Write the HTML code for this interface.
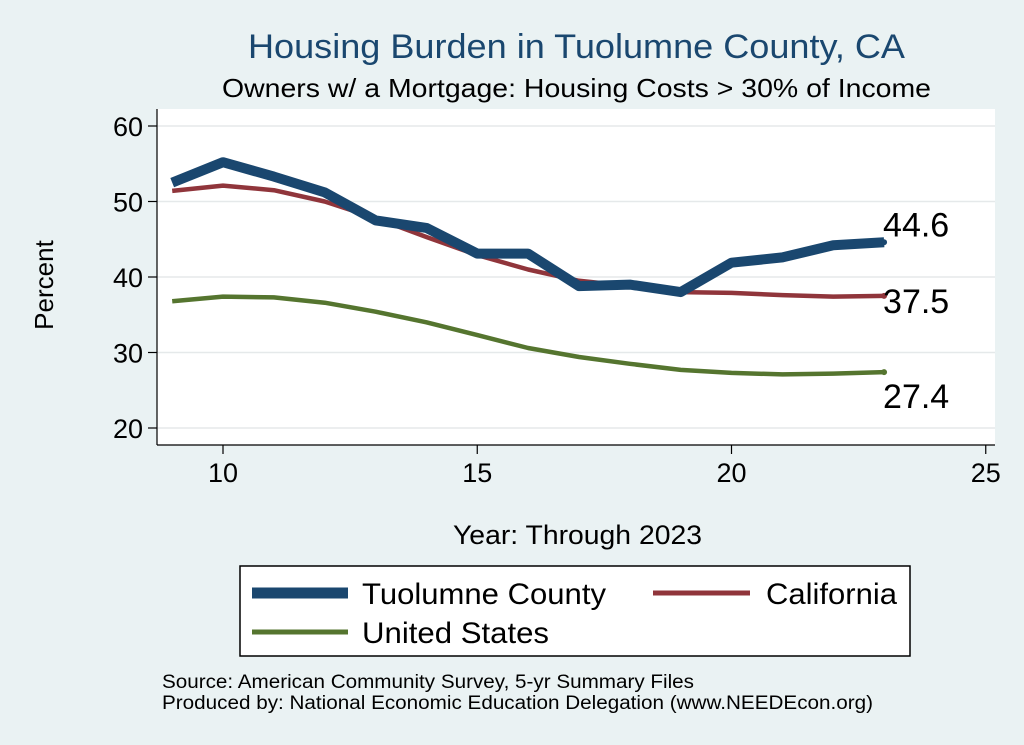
<!DOCTYPE html>
<html><head><meta charset="utf-8"><style>
body{margin:0;background:#eaf2f3;}
svg{display:block;font-family:"Liberation Sans",Arial,sans-serif;}
</style></head><body>
<svg id="chart" width="1024" height="745">
<rect x="0" y="0" width="1024" height="745" fill="#eaf2f3"/>
<text x="248" y="58" font-size="34" textLength="657" lengthAdjust="spacingAndGlyphs" fill="#1a476f">Housing Burden in Tuolumne County, CA</text>
<text x="222" y="97" font-size="26" textLength="709" lengthAdjust="spacingAndGlyphs" fill="#000">Owners w/ a Mortgage: Housing Costs &gt; 30% of Income</text>
<rect x="157" y="109" width="838" height="336" fill="#fff"/>
<g id="grid"></g>
<g id="axes"></g>
<g id="series"></g>
<text x="53" y="285" text-anchor="middle" font-size="26" transform="rotate(-90 53 285)">Percent</text>
<text x="453" y="544" font-size="27" textLength="249" lengthAdjust="spacingAndGlyphs">Year: Through 2023</text>
<g>
<rect x="240" y="566" width="670" height="90" fill="#fff" stroke="#000" stroke-width="1.5"/>
<line x1="252" y1="593" x2="348" y2="593" stroke="#1a476f" stroke-width="11"/>
<text x="362" y="604" font-size="30" textLength="244" lengthAdjust="spacingAndGlyphs">Tuolumne County</text>
<line x1="653" y1="593" x2="750" y2="593" stroke="#90353b" stroke-width="5"/>
<text x="766" y="604" font-size="30" textLength="131" lengthAdjust="spacingAndGlyphs">California</text>
<line x1="252" y1="632" x2="348" y2="632" stroke="#55752f" stroke-width="5"/>
<text x="362" y="643" font-size="30" textLength="187" lengthAdjust="spacingAndGlyphs">United States</text>
</g>
<text x="162" y="688" font-size="19" textLength="532" lengthAdjust="spacingAndGlyphs">Source: American Community Survey, 5-yr Summary Files</text>
<text x="162" y="709" font-size="19" textLength="711" lengthAdjust="spacingAndGlyphs">Produced by: National Economic Education Delegation (www.NEEDEcon.org)</text>
</svg>
<script>
const years=[9,10,11,12,13,14,15,16,17,18,19,20,21,22,23];
const tuolumne=[52.5,55.2,53.3,51.2,47.5,46.5,43.1,43.1,38.8,39.0,38.0,41.9,42.6,44.2,44.6];
const california=[51.4,52.1,51.5,50.0,47.8,45.3,42.9,41.0,39.5,38.8,38.0,37.9,37.6,37.4,37.5];
const unitedStates=[36.8,37.4,37.3,36.6,35.4,34.0,32.3,30.6,29.4,28.5,27.7,27.3,27.1,27.2,27.4];
const yTicks=[20,30,40,50,60];
const xTicks=[10,15,20,25];
const NS="http://www.w3.org/2000/svg";
function xs(v){return 223+(v-10)*50.85;}
function ys(v){return 428-(v-20)*7.55;}
function mk(tag,attrs,parent,txt){const e=document.createElementNS(NS,tag);for(const k in attrs)e.setAttribute(k,attrs[k]);if(txt!==undefined)e.textContent=txt;parent.appendChild(e);return e;}
const grid=document.getElementById('grid'),axes=document.getElementById('axes'),ser=document.getElementById('series');
yTicks.forEach(t=>{
 const g=mk('line',{x1:157,x2:995,y1:ys(t),y2:ys(t),stroke:'#e5e9ea','stroke-width':1.5},grid);
 
 
 const tk=mk('line',{x1:148,x2:157,y1:ys(t),y2:ys(t),stroke:'#000','stroke-width':1.2},axes);
 
 
 const l=mk('text',{x:143,y:ys(t)+10,'text-anchor':'end','font-size':27},axes,String(t));
 
 
});
const ya=mk('line',{x1:157,x2:157,y1:109,y2:445,stroke:'#000','stroke-width':1.2},axes);


const xa=mk('line',{x1:157,x2:995,y1:445,y2:445,stroke:'#000','stroke-width':1.2},axes);


xTicks.forEach(t=>{
 const tk=mk('line',{x1:xs(t),x2:xs(t),y1:445,y2:454,stroke:'#000','stroke-width':1.2},axes);
 
 
 const l=mk('text',{x:xs(t),y:482,'text-anchor':'middle','font-size':27},axes,String(t));
 
 
});
function series(vals,color,w,name,labelDy){
 const d=vals.map((v,i)=>(i?'L':'M')+xs(years[i]).toFixed(1)+' '+ys(v).toFixed(1)).join(' ');
 const p=mk('path',{d:d,fill:'none',stroke:color,'stroke-width':w,'stroke-linejoin':'round'},ser);
 
 
 const last=vals[vals.length-1],lx=xs(years[years.length-1]),ly=ys(last);
 const c=mk('circle',{cx:lx,cy:ly,r:3,fill:color},ser);
 
 
 const t=mk('text',{x:lx-1,y:ly+labelDy,'font-size':34},ser,last.toFixed(1));
 
 
}
series(unitedStates,'#55752f',4.5,'united-states',36);
series(california,'#90353b',4.5,'california',17);
series(tuolumne,'#1a476f',10,'tuolumne',-6);
</script>
</body></html>
